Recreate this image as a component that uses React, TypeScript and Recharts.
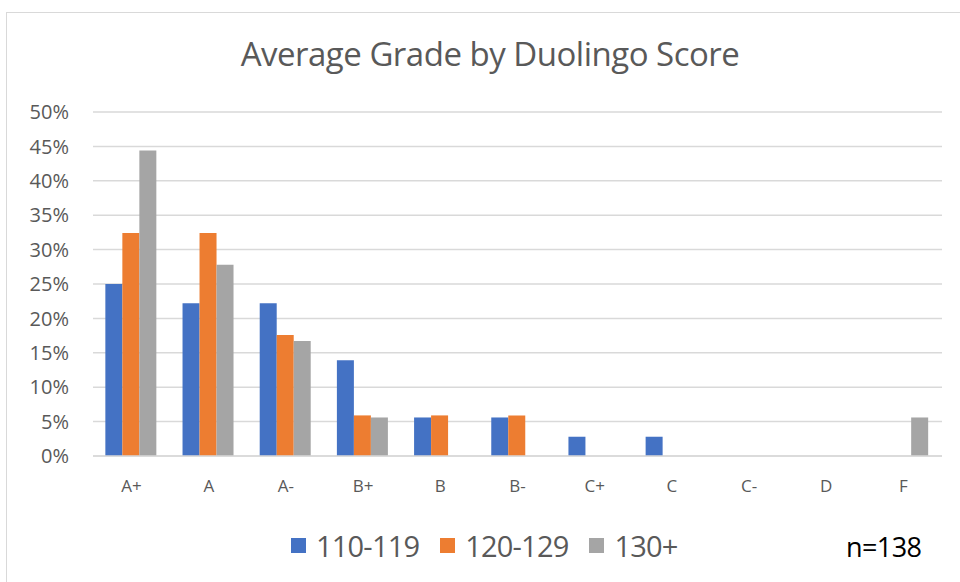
import React from 'react';
import { BarChart, Bar, XAxis, YAxis, CartesianGrid } from 'recharts';

const grades = ['A+', 'A', 'A-', 'B+', 'B', 'B-', 'C+', 'C', 'C-', 'D', 'F'];
const score110 = [25.0, 22.2, 22.2, 13.9, 5.6, 5.6, 2.8, 2.8, 0, 0, 0];
const score120 = [32.4, 32.4, 17.6, 5.9, 5.9, 5.9, 0, 0, 0, 0, 0];
const score130 = [44.4, 27.8, 16.7, 5.6, 0, 0, 0, 0, 0, 0, 5.6];
const yTicks = [0, 5, 10, 15, 20, 25, 30, 35, 40, 45, 50];

const series = [
  { key: 's110', name: '110-119', color: '#4472C4' },
  { key: 's120', name: '120-129', color: '#ED7D31' },
  { key: 's130', name: '130+', color: '#A5A5A5' },
];

const data = grades.map((g, i) => ({
  grade: g,
  s110: score110[i],
  s120: score120[i],
  s130: score130[i],
}));

const FONT = '"Open Sans", sans-serif';

const App: React.FC = () => {
  return (
    <div style={{ position: 'absolute', left: 0, top: 0, width: 960, height: 582, background: '#fff', fontFamily: FONT, overflow: 'hidden' }}>
      <div style={{ position: 'absolute', left: 6, top: 12, width: 970, height: 600, border: '1px solid #D9D9D9', boxSizing: 'border-box' }} />
      <div style={{ position: 'absolute', left: 0, top: 31, width: 980, textAlign: 'center', fontSize: 33, lineHeight: 'normal', color: '#595959', letterSpacing: -0.5, whiteSpace: 'nowrap' }}>
        Average Grade by Duolingo Score
      </div>
      <div style={{ position: 'absolute', left: 0, top: 0 }}>
        <BarChart
          width={960}
          height={582}
          data={data}
          margin={{ top: 112, right: 18, bottom: 96, left: 0 }}
          barCategoryGap="16%"
          barGap={0}
        >
          <CartesianGrid vertical={false} stroke="#D9D9D9" strokeWidth={1.5} />
          <XAxis
            dataKey="grade"
            axisLine={{ stroke: '#D9D9D9', strokeWidth: 1.5 }}
            tickLine={false}
            tick={{ fill: '#595959', fontSize: 17, fontFamily: FONT }}
            tickMargin={18}
          />
          <YAxis
            width={93}
            domain={[0, 50]}
            ticks={yTicks}
            interval={0}
            axisLine={false}
            tickLine={false}
            tickSize={0}
            tickMargin={24}
            tickFormatter={(v: number) => `${v}%`}
            tick={{ fill: '#595959', fontSize: 20, fontFamily: FONT }}
          />
          {series.map((s) => (
            <Bar key={s.key} dataKey={s.key} name={s.name} fill={s.color} isAnimationActive={false} />
          ))}
        </BarChart>
      </div>
      <div style={{ position: 'absolute', left: 291, top: 526, display: 'flex', alignItems: 'center', fontSize: 29, lineHeight: 'normal', color: '#595959', letterSpacing: -0.8 }}>
        {series.map((s) => (
          <div key={s.key} style={{ display: 'flex', alignItems: 'center', marginRight: 21 }}>
            <div style={{ width: 15, height: 15, background: s.color, marginRight: 10 }} />
            <span>{s.name}</span>
          </div>
        ))}
      </div>
      <div style={{ position: 'absolute', left: 846, top: 528, fontSize: 27, lineHeight: 'normal', color: '#000', letterSpacing: -0.6 }}>n=138</div>
    </div>
  );
};

export default App;
